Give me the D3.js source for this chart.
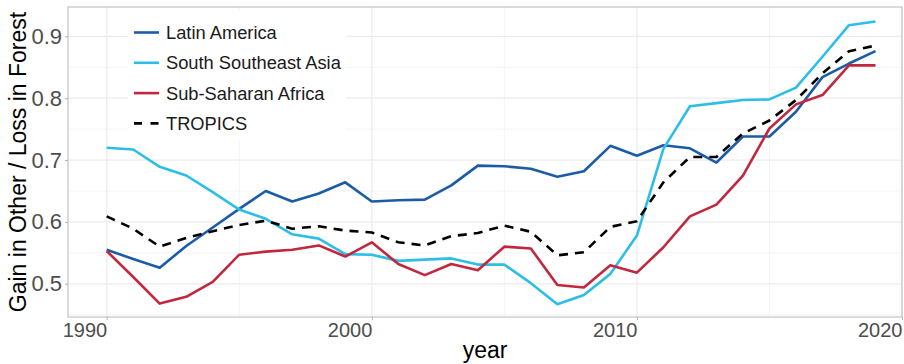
<!DOCTYPE html>
<html>
<head>
<meta charset="utf-8">
<script src="https://cdn.jsdelivr.net/npm/d3@7"></script>
<style>
  html, body { margin: 0; padding: 0; background: #fff; }
  svg { display: block; font-family: "Liberation Sans", Arial, sans-serif; }
</style>
</head>
<body>
<svg id="chart" width="904" height="364"></svg>
<script>
// Ratio of gain in other land covers to loss in forest, by region, 1990-2019
const years = d3.range(1990, 2020);

const latinAmerica = [
  0.555, 0.540, 0.526, 0.561, 0.591, 0.621, 0.650, 0.633, 0.646, 0.664,
  0.633, 0.635, 0.636, 0.659, 0.691, 0.690, 0.686, 0.673, 0.682, 0.723,
  0.707, 0.724, 0.719, 0.696, 0.738, 0.738, 0.778, 0.834, 0.856, 0.876
];
const southSoutheastAsia = [
  0.720, 0.717, 0.689, 0.675, 0.648, 0.620, 0.605, 0.580, 0.573, 0.548,
  0.547, 0.537, 0.539, 0.541, 0.531, 0.531, 0.501, 0.467, 0.482, 0.516,
  0.578, 0.718, 0.787, 0.792, 0.797, 0.798, 0.817, 0.867, 0.918, 0.924
];
const subSaharanAfrica = [
  0.553, 0.511, 0.468, 0.479, 0.503, 0.547, 0.552, 0.555, 0.562, 0.544,
  0.567, 0.532, 0.514, 0.532, 0.522, 0.560, 0.557, 0.498, 0.494, 0.530,
  0.518, 0.559, 0.609, 0.628, 0.675, 0.751, 0.790, 0.805, 0.853, 0.853
];
const tropics = [
  0.609, 0.589, 0.560, 0.574, 0.585, 0.595, 0.602, 0.589, 0.593, 0.586,
  0.583, 0.567, 0.562, 0.577, 0.582, 0.594, 0.584, 0.546, 0.551, 0.592,
  0.601, 0.664, 0.705, 0.705, 0.743, 0.764, 0.797, 0.840, 0.876, 0.885
];

const seriesNames = ["Latin America", "South Southeast Asia", "Sub-Saharan Africa", "TROPICS"];
const seriesColors = ["#1c5ca7", "#2cbee6", "#c1273d", "#000000"];
const seriesDash = [null, null, null, "9,7"];
const seriesValues = [latinAmerica, southSoutheastAsia, subSaharanAfrica, tropics];

const xTicks = [1990, 2000, 2010, 2020];
const xMinor = [1995, 2005, 2015];
const yTicks = [0.5, 0.6, 0.7, 0.8, 0.9];
const yMinor = [0.45, 0.55, 0.65, 0.75, 0.85];

const svg = d3.select("#chart");
const panel = { left: 68, right: 902, top: 7, bottom: 317 };

const x = d3.scaleLinear().domain([1988.54, 2020]).range([panel.left, panel.right]);
const y = d3.scaleLinear().domain([0.4463, 0.9474]).range([panel.bottom, panel.top]);

// grid
const grid = svg.append("g");
grid.selectAll(".ymin").data(yMinor).join("line")
  .attr("x1", panel.left).attr("x2", panel.right)
  .attr("y1", d => y(d)).attr("y2", d => y(d))
  .attr("stroke", "#f4f4f4").attr("stroke-width", 1);
grid.selectAll(".xmin").data(xMinor).join("line")
  .attr("y1", panel.top).attr("y2", panel.bottom)
  .attr("x1", d => x(d)).attr("x2", d => x(d))
  .attr("stroke", "#f4f4f4").attr("stroke-width", 1);
grid.selectAll(".ymaj").data(yTicks).join("line")
  .attr("x1", panel.left).attr("x2", panel.right)
  .attr("y1", d => y(d)).attr("y2", d => y(d))
  .attr("stroke", "#ebebeb").attr("stroke-width", 1.2);
grid.selectAll(".xmaj").data(xTicks).join("line")
  .attr("y1", panel.top).attr("y2", panel.bottom)
  .attr("x1", d => x(d)).attr("x2", d => x(d))
  .attr("stroke", "#ebebeb").attr("stroke-width", 1.2);

// legend background sits over the grid
const legend = svg.append("g");
legend.append("rect")
  .attr("x", 128).attr("y", 10).attr("width", 218).attr("height", 130)
  .attr("fill", "#fff");

// series lines
const line = d3.line().x((d, i) => x(years[i])).y(d => y(d));
seriesValues.forEach((vals, k) => {
  svg.append("path")
    .datum(vals)
    .attr("d", line)
    .attr("fill", "none")
    .attr("stroke", seriesColors[k])
    .attr("stroke-width", 2.6)
    .attr("stroke-linejoin", "round")
    .attr("stroke-dasharray", seriesDash[k]);
});

// panel border
svg.append("rect")
  .attr("x", panel.left).attr("y", panel.top)
  .attr("width", panel.right - panel.left).attr("height", panel.bottom - panel.top)
  .attr("fill", "none").attr("stroke", "#c4c4c4").attr("stroke-width", 1.2);

// axes
const xAxis = d3.axisBottom(x).tickValues(xTicks).tickFormat(d3.format("d")).tickSize(3).tickPadding(3);
const gx = svg.append("g").attr("transform", `translate(0,${panel.bottom})`).call(xAxis);
gx.select(".domain").remove();
gx.selectAll(".tick line").attr("stroke", "#b3b3b3");
gx.selectAll(".tick text")
  .attr("fill", "#4d4d4d").attr("font-size", 20)
  .attr("text-anchor", "end").attr("dx", 0)
  .style("font-family", "'Liberation Sans', Arial, sans-serif");

const yAxis = d3.axisLeft(y).tickValues(yTicks).tickFormat(d3.format(".1f")).tickSize(3).tickPadding(3);
const gy = svg.append("g").attr("transform", `translate(${panel.left},0)`).call(yAxis);
gy.select(".domain").remove();
gy.selectAll(".tick line").attr("stroke", "#b3b3b3");
gy.selectAll(".tick text")
  .attr("fill", "#4d4d4d").attr("font-size", 22)
  .style("font-family", "'Liberation Sans', Arial, sans-serif");

// axis titles
svg.append("text")
  .attr("x", (panel.left + panel.right) / 2).attr("y", 358)
  .attr("text-anchor", "middle").attr("font-size", 23).attr("fill", "#000")
  .text("year");
svg.append("text")
  .attr("transform", `translate(26,${(panel.top + panel.bottom) / 2}) rotate(-90)`)
  .attr("text-anchor", "middle").attr("font-size", 23).attr("fill", "#000")
  .text("Gain in Other / Loss in Forest");

// legend entries
seriesNames.forEach((name, k) => {
  const cy = 32.5 + k * 30.3;
  legend.append("line")
    .attr("x1", 134).attr("x2", 159).attr("y1", cy).attr("y2", cy)
    .attr("stroke", seriesColors[k]).attr("stroke-width", 2.6)
    .attr("stroke-dasharray", seriesDash[k] ? "8,8.5" : null);
  legend.append("text")
    .attr("x", 166).attr("y", cy).attr("dy", "0.35em")
    .attr("font-size", 18.3).attr("fill", "#1a1a1a")
    .text(name);
});
</script>
</body>
</html>
